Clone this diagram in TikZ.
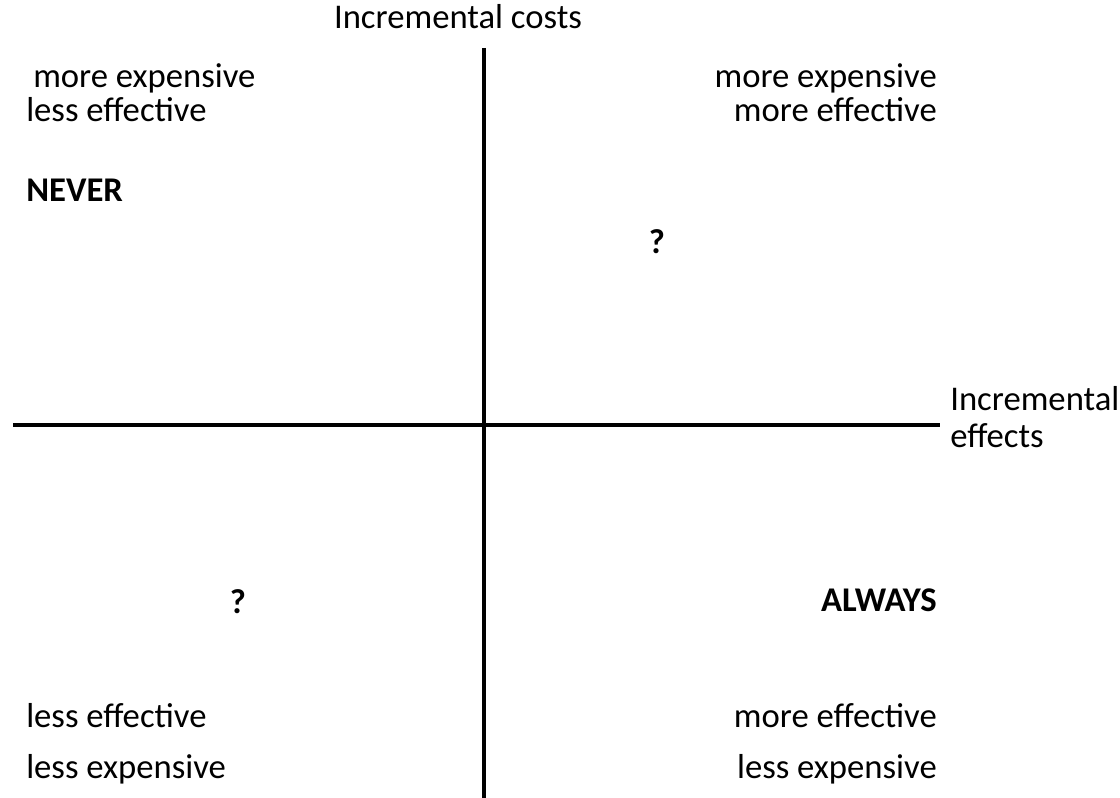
\documentclass[tikz,border=0pt]{standalone}
\usepackage{fontspec}
\setmainfont{Carlito}
\usetikzlibrary{positioning}

\tikzset{
  quad/.style={font=\fontsize{26}{30}\selectfont, inner sep=0pt},
  verdict/.style={quad, font=\fontsize{26}{30}\selectfont\bfseries},
  axis/.style={line width=3pt, black}
}

\begin{document}
\begin{tikzpicture}[x=0.75pt, y=-0.75pt]
  \useasboundingbox (0,0) rectangle (1120,798);
  % axes
  \coordinate (ytop) at (484,48);
  \coordinate (ybot) at (484,798);
  \coordinate (xleft) at (13,425);
  \coordinate (xright) at (940,425);
  \draw[line width=2.4pt] (ytop) -- (ybot);
  \draw[axis] (xleft) -- (xright);
  % axis labels
  \node[quad] (costs) at (458,17) {Incremental costs};
  \node[quad, anchor=mid west] (effA) at (950,407) {Incremental};
  \node[quad, anchor=mid west] (effB) at (950,444) {effects};
  % top left
  \node[quad, anchor=mid west] (tlA) at (33,84) {more expensive};
  \node[quad, anchor=mid west] (tlB) at (26,118) {less effective};
  \node[verdict, anchor=mid west] (never) at (26,198) {NEVER};
  % top right
  \node[quad, anchor=mid east] (trA) at (937,84) {more expensive};
  \node[quad, anchor=mid east] (trB) at (937,118) {more effective};
  \node[verdict] (qtr) at (657,242) {?};
  % bottom left
  \node[verdict] (qbl) at (238,602) {?};
  \node[quad, anchor=mid west] (blA) at (26,724) {less effective};
  \node[quad, anchor=mid west] (blB) at (26,775) {less expensive};
  % bottom right
  \node[verdict, anchor=mid east] (always) at (937,608) {ALWAYS};
  \node[quad, anchor=mid east] (brA) at (937,724) {more effective};
  \node[quad, anchor=mid east] (brB) at (937,775) {less expensive};
\end{tikzpicture}
\end{document}
